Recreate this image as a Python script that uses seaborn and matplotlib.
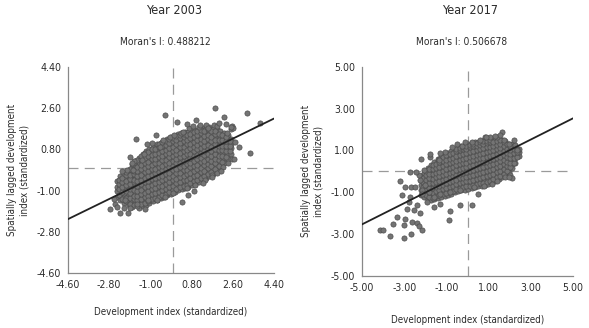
import numpy as np
import pandas as pd
import seaborn as sns
import matplotlib.pyplot as plt
from matplotlib import font_manager as fm

# values: columns of the dense cloud (x, list of spatial lags)
cloud_2003 = [
    (-2.47, [-1.28, -1.02, -0.86, -0.60]),
    (-2.31, [-1.43, -1.20, -0.94, -0.79, -0.51, -0.37]),
    (-2.14, [-1.55, -1.27, -1.10, -0.92, -0.66, -0.49, -0.26]),
    (-1.95, [-1.62, -1.44, -1.19, -0.99, -0.83, -0.55, -0.39, -0.10]),
    (-1.79, [-1.70, -1.46, -1.29, -1.04, -0.81, -0.67, -0.40, -0.22, 0.01, 0.15]),
    (-1.66, [-1.56, -1.33, -1.17, -0.90, -0.72, -0.49, -0.33, -0.08, 0.10, 0.30]),
    (-1.49, [-1.75, -1.49, -1.33, -1.06, -0.91, -0.64, -0.47, -0.22, 0.00, 0.20, 0.43]),
    (-1.33, [-1.66, -1.47, -1.20, -1.03, -0.76, -0.58, -0.39, -0.13, 0.07, 0.24, 0.51, 0.62]),
    (-1.18, [-1.61, -1.35, -1.19, -0.93, -0.70, -0.54, -0.28, -0.10, 0.16, 0.32, 0.57, 0.72]),
    (-1.04, [-1.53, -1.29, -1.12, -0.84, -0.68, -0.42, -0.25, 0.01, 0.17, 0.44, 0.61, 0.81]),
    (-0.87, [-1.46, -1.27, -1.01, -0.84, -0.57, -0.40, -0.14, 0.03, 0.29, 0.45, 0.72, 0.91]),
    (-0.71, [-1.41, -1.16, -0.99, -0.73, -0.56, -0.30, -0.14, 0.13, 0.28, 0.55, 0.73, 0.93, 1.03]),
    (-0.55, [-1.34, -1.14, -0.88, -0.72, -0.45, -0.29, -0.02, 0.14, 0.40, 0.57, 0.83, 1.00, 1.10]),
    (-0.42, [-1.29, -1.04, -0.87, -0.61, -0.44, -0.18, -0.01, 0.25, 0.41, 0.68, 0.84, 1.06, 1.18]),
    (-0.26, [-1.21, -1.01, -0.75, -0.58, -0.32, -0.15, 0.11, 0.27, 0.54, 0.70, 0.96, 1.13, 1.26]),
    (-0.09, [-1.14, -0.89, -0.72, -0.46, -0.29, -0.03, 0.14, 0.40, 0.56, 0.83, 0.99, 1.24, 1.34]),
    (0.06, [-1.07, -0.87, -0.61, -0.44, -0.18, -0.01, 0.25, 0.42, 0.68, 0.85, 1.11, 1.27, 1.40]),
    (0.21, [-0.99, -0.74, -0.58, -0.31, -0.15, 0.12, 0.28, 0.55, 0.71, 0.97, 1.14, 1.38, 1.46]),
    (0.37, [-0.95, -0.71, -0.48, -0.31, -0.05, 0.12, 0.38, 0.55, 0.81, 0.98, 1.24, 1.40, 1.51]),
    (0.52, [-0.90, -0.62, -0.45, -0.19, -0.02, 0.24, 0.41, 0.67, 0.84, 1.10, 1.26, 1.45, 1.55]),
    (0.66, [-0.84, -0.61, -0.35, -0.18, 0.08, 0.25, 0.51, 0.68, 0.94, 1.11, 1.37, 1.58]),
    (0.83, [-0.77, -0.53, -0.36, -0.09, 0.07, 0.34, 0.50, 0.77, 0.93, 1.20, 1.36, 1.62]),
    (0.97, [-0.71, -0.45, -0.28, -0.02, 0.15, 0.41, 0.58, 0.84, 1.01, 1.27, 1.44, 1.66]),
    (1.13, [-0.63, -0.40, -0.13, 0.03, 0.30, 0.46, 0.73, 0.89, 1.16, 1.32, 1.55, 1.70]),
    (1.28, [-0.54, -0.28, -0.11, 0.15, 0.32, 0.58, 0.75, 1.01, 1.18, 1.44, 1.60, 1.73]),
    (1.44, [-0.44, -0.22, 0.04, 0.21, 0.47, 0.64, 0.90, 1.07, 1.33, 1.50, 1.74]),
    (1.58, [-0.35, -0.09, 0.07, 0.34, 0.50, 0.77, 0.93, 1.20, 1.36, 1.59, 1.76]),
    (1.73, [-0.26, -0.03, 0.23, 0.40, 0.66, 0.83, 1.09, 1.26, 1.52, 1.71]),
    (1.91, [-0.11, 0.12, 0.29, 0.55, 0.72, 0.98, 1.15, 1.41, 1.67]),
    (2.05, [0.01, 0.27, 0.44, 0.70, 0.87, 1.13, 1.30, 1.61]),
    (2.22, [0.19, 0.42, 0.68, 0.85, 1.11, 1.28, 1.53]),
    (2.37, [0.38, 0.61, 0.87, 1.04, 1.30, 1.42]),
    (2.54, [0.62, 0.88, 1.05, 1.24]),
]
# second pass over the same cloud, between the first columns
cloud_2003_b = [
    (-2.39, [-1.18, -0.93, -0.70, -0.55]),
    (-2.22, [-1.36, -1.05, -0.84, -0.61, -0.43]),
    (-2.05, [-1.47, -1.33, -1.01, -0.76, -0.60, -0.31, -0.20]),
    (-1.87, [-1.58, -1.34, -1.11, -0.92, -0.73, -0.48, -0.30, -0.05]),
    (-1.72, [-1.61, -1.38, -1.22, -0.97, -0.62, -0.55, -0.26, -0.14, 0.20]),
    (-1.57, [-1.66, -1.42, -1.24, -1.00, -0.80, -0.58, -0.38, -0.15, 0.05, 0.33]),
    (-1.41, [-1.58, -1.38, -1.13, -0.98, -0.71, -0.52, -0.30, -0.06, 0.14, 0.36, 0.49]),
    (-1.25, [-1.52, -1.29, -1.10, -0.86, -0.64, -0.46, -0.20, 0.00, 0.22, 0.42, 0.63]),
    (-1.11, [-1.45, -1.25, -1.02, -0.79, -0.60, -0.36, -0.15, 0.07, 0.26, 0.50, 0.68]),
    (-0.95, [-1.37, -1.17, -0.93, -0.75, -0.50, -0.31, -0.07, 0.12, 0.36, 0.57, 0.80]),
    (-0.79, [-1.33, -1.09, -0.89, -0.66, -0.47, -0.22, -0.04, 0.20, 0.39, 0.62, 0.83]),
    (-0.63, [-1.27, -1.05, -0.81, -0.62, -0.39, -0.19, 0.05, 0.22, 0.47, 0.66, 0.89, 1.02]),
    (-0.48, [-1.21, -0.97, -0.78, -0.53, -0.35, -0.10, 0.08, 0.32, 0.50, 0.75, 0.95, 1.11]),
    (-0.34, [-1.13, -0.92, -0.69, -0.49, -0.26, -0.07, 0.17, 0.35, 0.60, 0.79, 1.01, 1.18]),
    (-0.17, [-1.06, -0.83, -0.63, -0.39, -0.21, 0.03, 0.20, 0.45, 0.63, 0.88, 1.06, 1.24]),
    (-0.01, [-0.98, -0.78, -0.53, -0.35, -0.11, 0.07, 0.31, 0.49, 0.74, 0.92, 1.16, 1.31]),
    (0.13, [-0.91, -0.68, -0.49, -0.24, -0.06, 0.19, 0.37, 0.61, 0.79, 1.03, 1.22, 1.39]),
    (0.29, [-0.85, -0.63, -0.40, -0.21, 0.03, 0.21, 0.46, 0.64, 0.89, 1.07, 1.31, 1.44]),
    (0.45, [-0.79, -0.55, -0.36, -0.11, 0.06, 0.31, 0.49, 0.74, 0.92, 1.16, 1.34, 1.49]),
    (0.59, [-0.74, -0.52, -0.27, -0.09, 0.16, 0.34, 0.59, 0.77, 1.02, 1.20, 1.44]),
    (0.75, [-0.68, -0.44, -0.24, 0.01, 0.19, 0.43, 0.61, 0.86, 1.04, 1.29, 1.47]),
    (0.90, [-0.60, -0.38, -0.14, 0.06, 0.30, 0.49, 0.71, 0.92, 1.14, 1.35, 1.55]),
    (1.05, [-0.53, -0.31, -0.06, 0.12, 0.37, 0.56, 0.80, 0.98, 1.23, 1.41, 1.61]),
    (1.21, [-0.46, -0.20, -0.02, 0.24, 0.41, 0.66, 0.84, 1.09, 1.27, 1.52, 1.65]),
    (1.36, [-0.36, -0.14, 0.11, 0.29, 0.54, 0.72, 0.97, 1.15, 1.40, 1.62]),
    (1.51, [-0.27, -0.02, 0.15, 0.40, 0.59, 0.83, 1.01, 1.26, 1.45, 1.67]),
    (1.66, [-0.17, 0.06, 0.31, 0.49, 0.73, 0.91, 1.16, 1.34, 1.60]),
    (1.82, [-0.04, 0.20, 0.38, 0.62, 0.80, 1.05, 1.23, 1.48, 1.60]),
    (1.98, [0.09, 0.35, 0.53, 0.78, 0.96, 1.21, 1.47]),
    (2.14, [0.27, 0.52, 0.76, 0.94, 1.19, 1.41]),
    (2.30, [0.47, 0.73, 0.96, 1.17, 1.36]),
    (2.46, [0.71, 0.95, 1.16]),
]
edge_2003 = [
    (-1.78, -0.08), (-1.70, 0.28), (-1.38, 0.35), (-1.27, 0.58), (-0.95, 1.07), (-0.58, 0.92), (-0.47, 1.22),
    (-0.13, 1.32), (0.03, 1.41), (0.32, 1.52), (0.44, 1.56), (0.68, 1.72), (0.84, 1.83), (1.12, 1.77),
    (1.44, 1.88), (1.77, 1.85), (1.93, 1.84), (2.52, 1.70), (2.58, 1.84), (2.33, 1.50),
    (-2.10, -1.40), (-1.90, -1.77), (-1.60, -1.58), (-1.10, -1.40), (-0.73, -1.41), (-0.36, -1.26),
    (0.00, -1.09), (0.58, -0.90), (0.95, -0.75), (1.38, -0.53), (1.67, -0.32), (1.90, -0.24), (2.18, 0.05),
    (2.40, 0.20),
]
outliers_2003 = [
    (1.82, 2.62), (3.20, 2.40), (3.78, 1.95), (3.35, 0.66), (-0.36, 2.30), (0.15, 2.00), (-1.63, 1.24),
    (-0.76, 1.43), (-1.16, 1.04), (-1.82, 0.22), (-2.04, -0.10), (-2.77, -1.81), (-2.55, -1.58), (-2.33, -1.98),
    (-1.97, -1.99), (-1.24, -1.81), (0.38, -1.48), (0.65, -1.19), (1.31, -0.68), (2.55, 0.37), (2.65, 0.37),
    (2.88, 0.92), (2.70, 1.13), (2.62, 1.72), (2.50, 1.80), (2.21, 2.23), (1.16, 1.87), (1.53, 1.72),
    (1.00, 2.09), (0.60, 1.90), (2.00, 1.95), (2.30, 1.90), (-2.15, -1.78), (-2.60, -1.35), (-2.45, -1.70),
    (1.70, -0.40), (2.10, -0.15), (0.90, -1.00), (-1.90, 0.45), (-2.25, -0.15),
]

cloud_2017 = [
    (-2.20, [-1.13, -0.87, -0.66, -0.41, -0.24]),
    (-2.05, [-1.24, -0.99, -0.80, -0.55, -0.33, -0.08]),
    (-1.89, [-1.34, -1.10, -0.88, -0.69, -0.43, -0.24, 0.01, 0.14]),
    (-1.73, [-1.37, -1.15, -0.96, -0.71, -0.51, -0.30, -0.06, 0.12, 0.31]),
    (-1.57, [-1.33, -1.08, -0.90, -0.64, -0.45, -0.21, -0.02, 0.23, 0.44]),
    (-1.41, [-1.29, -1.06, -0.82, -0.63, -0.38, -0.18, 0.06, 0.25, 0.49, 0.58]),
    (-1.25, [-1.23, -0.98, -0.79, -0.54, -0.34, -0.09, 0.10, 0.35, 0.53, 0.70]),
    (-1.09, [-1.18, -0.95, -0.71, -0.52, -0.26, -0.07, 0.18, 0.37, 0.62, 0.79]),
    (-0.93, [-1.12, -0.87, -0.68, -0.43, -0.23, 0.01, 0.21, 0.46, 0.65, 0.89]),
    (-0.77, [-1.07, -0.84, -0.60, -0.41, -0.15, 0.04, 0.29, 0.48, 0.73, 0.97]),
    (-0.61, [-1.01, -0.76, -0.57, -0.32, -0.12, 0.12, 0.32, 0.57, 0.76, 0.98, 1.06]),
    (-0.45, [-0.95, -0.73, -0.49, -0.30, -0.04, 0.15, 0.40, 0.59, 0.84, 1.02, 1.13]),
    (-0.29, [-0.91, -0.65, -0.46, -0.21, -0.01, 0.23, 0.43, 0.68, 0.87, 1.10, 1.20]),
    (-0.13, [-0.87, -0.63, -0.38, -0.19, 0.07, 0.26, 0.51, 0.70, 0.95, 1.13, 1.25]),
    (0.03, [-0.84, -0.55, -0.36, -0.10, 0.09, 0.34, 0.54, 0.78, 0.97, 1.21, 1.30]),
    (0.19, [-0.80, -0.53, -0.28, -0.08, 0.17, 0.37, 0.62, 0.81, 1.06, 1.24, 1.34]),
    (0.35, [-0.76, -0.45, -0.26, 0.00, 0.20, 0.45, 0.64, 0.89, 1.08, 1.30, 1.38]),
    (0.51, [-0.72, -0.43, -0.17, 0.03, 0.28, 0.48, 0.72, 0.92, 1.16, 1.33, 1.42]),
    (0.67, [-0.69, -0.35, -0.14, 0.11, 0.31, 0.56, 0.75, 1.00, 1.19, 1.39, 1.46]),
    (0.83, [-0.65, -0.40, -0.22, 0.04, 0.23, 0.48, 0.67, 0.92, 1.11, 1.35, 1.50]),
    (0.99, [-0.60, -0.32, -0.13, 0.12, 0.32, 0.56, 0.76, 1.01, 1.20, 1.43, 1.54]),
    (1.15, [-0.52, -0.29, -0.05, 0.15, 0.40, 0.59, 0.84, 1.03, 1.28, 1.46, 1.56]),
    (1.31, [-0.44, -0.21, 0.03, 0.23, 0.48, 0.67, 0.92, 1.11, 1.36, 1.57]),
    (1.47, [-0.37, -0.12, 0.06, 0.31, 0.51, 0.75, 0.95, 1.20, 1.39, 1.55]),
    (1.63, [-0.29, -0.04, 0.15, 0.39, 0.59, 0.84, 1.03, 1.28, 1.51]),
    (1.79, [-0.18, 0.03, 0.23, 0.48, 0.67, 0.92, 1.11, 1.35, 1.46]),
    (1.95, [-0.04, 0.18, 0.42, 0.62, 0.86, 1.06, 1.30]),
    (2.11, [0.16, 0.35, 0.60, 0.79, 1.04, 1.29]),
    (2.27, [0.39, 0.63, 0.87, 1.06, 1.21]),
    (2.42, [0.71, 0.93, 1.09]),
]
cloud_2017_b = [
    (-2.12, [-1.05, -0.77, -0.52, -0.30]),
    (-1.97, [-1.15, -0.90, -0.65, -0.42, -0.18, 0.00]),
    (-1.81, [-1.22, -1.00, -0.78, -0.56, -0.33, -0.12, 0.11]),
    (-1.65, [-1.25, -1.03, -0.80, -0.57, -0.36, -0.13, 0.09, 0.30]),
    (-1.49, [-1.19, -0.96, -0.74, -0.51, -0.29, -0.08, 0.15, 0.37]),
    (-1.33, [-1.13, -0.91, -0.68, -0.46, -0.24, -0.01, 0.21, 0.43, 0.60]),
    (-1.17, [-1.09, -0.86, -0.63, -0.40, -0.17, 0.04, 0.27, 0.49, 0.68]),
    (-1.01, [-1.03, -0.80, -0.58, -0.35, -0.12, 0.10, 0.33, 0.55, 0.76]),
    (-0.85, [-0.97, -0.74, -0.52, -0.29, -0.06, 0.16, 0.39, 0.61, 0.83]),
    (-0.69, [-0.92, -0.68, -0.46, -0.23, -0.01, 0.21, 0.44, 0.66, 0.88]),
    (-0.53, [-0.86, -0.62, -0.40, -0.17, 0.05, 0.28, 0.50, 0.73, 0.95, 1.05]),
    (-0.37, [-0.81, -0.57, -0.34, -0.12, 0.11, 0.33, 0.56, 0.78, 1.00, 1.12]),
    (-0.21, [-0.77, -0.53, -0.30, -0.07, 0.15, 0.38, 0.60, 0.83, 1.05, 1.17]),
    (-0.05, [-0.72, -0.48, -0.25, -0.03, 0.20, 0.42, 0.65, 0.87, 1.09, 1.22]),
    (0.11, [-0.69, -0.44, -0.20, 0.03, 0.25, 0.48, 0.70, 0.92, 1.14, 1.27]),
    (0.27, [-0.66, -0.40, -0.16, 0.08, 0.30, 0.53, 0.75, 0.97, 1.19, 1.31]),
    (0.43, [-0.62, -0.35, -0.11, 0.13, 0.35, 0.57, 0.80, 1.02, 1.23, 1.35]),
    (0.59, [-0.58, -0.31, -0.07, 0.17, 0.40, 0.62, 0.84, 1.06, 1.28, 1.39]),
    (0.75, [-0.55, -0.27, -0.03, 0.20, 0.43, 0.66, 0.88, 1.10, 1.31, 1.43]),
    (0.91, [-0.50, -0.23, 0.01, 0.25, 0.47, 0.70, 0.92, 1.14, 1.35, 1.47]),
    (1.07, [-0.44, -0.18, 0.06, 0.30, 0.52, 0.74, 0.96, 1.18, 1.39, 1.50]),
    (1.23, [-0.36, -0.11, 0.12, 0.35, 0.57, 0.79, 1.01, 1.22, 1.42]),
    (1.39, [-0.28, -0.04, 0.19, 0.41, 0.63, 0.85, 1.06, 1.27, 1.45]),
    (1.55, [-0.20, 0.03, 0.26, 0.48, 0.70, 0.91, 1.12, 1.33, 1.48]),
    (1.71, [-0.11, 0.11, 0.33, 0.55, 0.77, 0.98, 1.19, 1.40]),
    (1.87, [0.02, 0.24, 0.46, 0.67, 0.88, 1.09, 1.30]),
    (2.03, [0.19, 0.40, 0.62, 0.83, 1.04, 1.22]),
    (2.19, [0.42, 0.64, 0.86, 1.07]),
    (2.35, [0.70, 0.92, 1.08]),
]
edge_2017 = [
    (-1.76, 0.69), (-1.37, 0.53), (-1.05, 0.93), (-0.73, 1.17), (-0.50, 1.33), (-0.26, 1.20), (0.21, 1.41),
    (0.61, 1.49), (0.85, 1.62), (1.08, 1.65), (1.40, 1.62), (1.71, 1.49), (1.95, 1.33), (2.27, 1.25),
    (-1.60, -1.22), (-1.29, -1.06), (-0.81, -0.98), (-0.34, -0.87), (0.29, -0.74), (0.77, -0.71),
    (1.16, -0.61), (1.40, -0.45), (1.79, -0.26), (2.03, -0.18),
    (-2.24, -0.42), (-2.00, -0.66), (-2.16, -0.90), (-1.84, -0.98), (-2.31, -0.18), (-2.08, 0.06),
]
outliers_2017 = [
    (1.64, 1.89), (2.19, 1.52), (2.35, 1.01), (2.11, -0.34), (1.95, -0.25), (-3.18, -0.47), (-2.98, -0.74),
    (-2.68, -0.74), (-2.50, -0.74), (-2.19, 0.57), (-1.79, 0.81), (-1.32, 0.87), (-2.71, -0.04), (-2.42, -0.04),
    (-3.10, -1.14), (-4.13, -2.78), (-4.02, -2.81), (-3.66, -3.09), (-3.34, -2.18), (-3.53, -2.50),
    (-2.99, -3.17), (-3.03, -2.54), (-2.95, -2.26), (-2.68, -3.00), (-2.63, -2.42), (-2.39, -2.46),
    (-2.31, -2.60), (-2.16, -2.81), (-0.89, -2.34), (-0.81, -1.89), (-0.34, -1.63), (0.21, -1.62),
    (-2.87, -1.78), (-2.55, -1.85), (-1.92, -1.46), (-1.60, -1.70), (-2.71, -1.22), (-2.79, -1.46),
    (-2.16, -1.06), (-2.40, -1.60), (-2.25, -2.00), (-1.30, -1.55), (0.50, -1.10), (1.55, 1.75),
    (1.30, 1.70), (0.90, 1.65), (-0.10, 1.40),
]

years = ["Year 2003", "Year 2017"]
moran_i = [0.488212, 0.506678]
ticks_2003 = [-4.60, -2.80, -1.00, 0.80, 2.60, 4.40]
ticks_2017 = [-5.00, -3.00, -1.00, 1.00, 3.00, 5.00]


def to_frame(clouds, edge, outliers):
    rows = [(x, y) for cloud in clouds for x, ys in cloud for y in ys] + edge + outliers
    return pd.DataFrame(rows, columns=["x", "y"])


sns.set_style("white")

# look for a narrow sans face, otherwise fall back to Liberation Sans
narrow = [f for f in fm.fontManager.ttflist
          if f.style == "normal" and f.weight in (400, "normal", "regular")
          and ("Narrow" in f.name or "Condensed" in f.name or "condensed" in str(f.stretch))]
if narrow:
    plt.rcParams["font.family"] = [narrow[0].name, "DejaVu Sans"]
    plt.rcParams["font.stretch"] = narrow[0].stretch
    fs_tick, fs_lab, fs_title, fs_sub = 7.6, 7.0, 9.0, 7.3
else:
    plt.rcParams["font.family"] = ["Liberation Sans", "DejaVu Sans"]
    fs_tick, fs_lab, fs_title, fs_sub = 7.0, 6.4, 8.0, 6.6

text_color = "#2b2b2b"

fig = plt.figure(figsize=(5.89, 3.28), dpi=100)
ax1 = fig.add_axes([68 / 589, 1 - 273 / 328, 206 / 589, 206 / 328])
ax2 = fig.add_axes([362 / 589, 1 - 276 / 328, 211 / 589, 209.3 / 328])

panels = [
    (ax1, to_frame([cloud_2003, cloud_2003_b], edge_2003, outliers_2003), ticks_2003, 12),
    (ax2, to_frame([cloud_2017, cloud_2017_b], edge_2017, outliers_2017), ticks_2017, 16),
]

for i, (ax, df, ticks, xpad) in enumerate(panels):
    ax.axhline(0, color="#9a9a9a", lw=0.9, ls=(0, (8, 5)), zorder=1)
    ax.axvline(0, color="#9a9a9a", lw=0.9, ls=(0, (8, 5)), zorder=1)
    sns.scatterplot(data=df, x="x", y="y", ax=ax, s=14, color="#747474",
                    edgecolor="#4d4d4d", linewidth=0.5, zorder=2)
    ax.axline((0, 0), slope=moran_i[i], color="#222222", lw=1.3, zorder=3)

    ax.set_xlim(ticks[0], ticks[-1])
    ax.set_ylim(ticks[0], ticks[-1])
    ax.set_xticks(ticks)
    ax.set_yticks(ticks)
    ax.set_xticklabels([f"{t:.2f}" for t in ticks])
    ax.set_yticklabels([f"{t:.2f}" for t in ticks])
    ax.tick_params(axis="both", length=3, width=0.8, color="#888888",
                   labelsize=fs_tick, labelcolor=text_color, pad=2, direction="out")
    for side in ["top", "right"]:
        ax.spines[side].set_visible(False)
    for side in ["left", "bottom"]:
        ax.spines[side].set_color("#888888")
        ax.spines[side].set_linewidth(0.9)

    ax.set_xlabel("Development index (standardized)", fontsize=fs_lab, color=text_color, labelpad=xpad)
    ax.set_ylabel("Spatially lagged development\nindex (standardized)", fontsize=fs_lab,
                  color=text_color, labelpad=5, linespacing=1.3)

    pos = ax.get_position()
    cx = (pos.x0 + pos.x1) / 2
    fig.text(cx + 0.005, 1 - 11 / 328, years[i], ha="center", va="center", fontsize=fs_title, color=text_color)
    fig.text(cx - 0.01, 1 - 42 / 328, f"Moran's I: {moran_i[i]:.6f}", ha="center", va="center",
             fontsize=fs_sub, color=text_color)

fig.savefig("out.png", dpi=100)
